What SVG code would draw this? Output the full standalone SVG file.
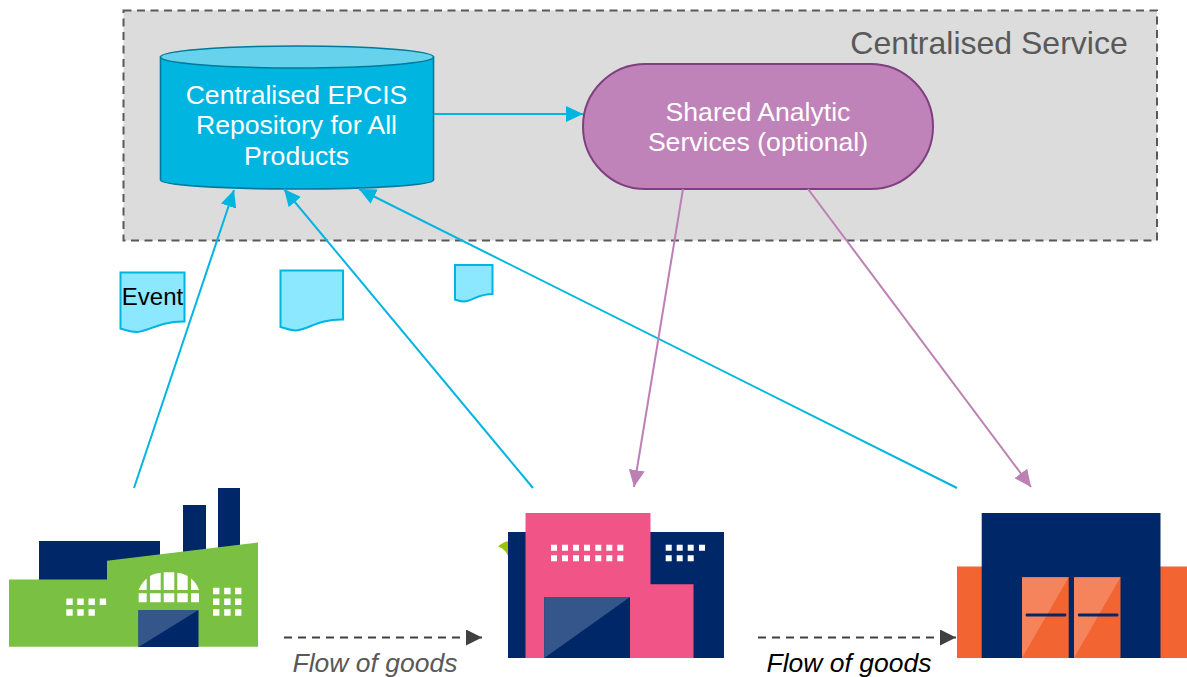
<svg xmlns="http://www.w3.org/2000/svg" width="1187" height="677" viewBox="0 0 1187 677">
<style>
text{font-family:"Liberation Sans",Arial,sans-serif}
.w{fill:#fff;font-size:26.6px;text-anchor:middle}
.flow{font-size:26.5px;font-style:italic;text-anchor:middle}
.blue{fill:none;stroke:#00b5e0;stroke-width:2}
.purple{fill:none;stroke:#bc80b5;stroke-width:2}
.goods{fill:none;stroke:#404040;stroke-width:2;stroke-dasharray:8 6}
.doc{fill:#8be8ff;stroke:#00b5e0;stroke-width:2}
.navy{fill:#002868}
.lt{fill:#34568b}
.win{fill:#fff}
</style>
<defs>
<marker id="ab" markerUnits="userSpaceOnUse" markerWidth="17" markerHeight="16" refX="17" refY="8" orient="auto"><path d="M0 0L17 8L0 16Z" fill="#00b5e0"/></marker>
<marker id="ap" markerUnits="userSpaceOnUse" markerWidth="17" markerHeight="16" refX="17" refY="8" orient="auto"><path d="M0 0L17 8L0 16Z" fill="#bc80b5"/></marker>
<marker id="ag" markerUnits="userSpaceOnUse" markerWidth="16" markerHeight="16" refX="16" refY="8" orient="auto"><path d="M0 0L16 8L0 16Z" fill="#404040"/></marker>
</defs>
<g id="service-box">
<rect x="123.5" y="10.5" width="1033.5" height="230" fill="#dcdcdc" stroke="#595959" stroke-width="2" stroke-dasharray="8 5.5"/>
<text x="989" y="54" font-size="32" fill="#595959" text-anchor="middle">Centralised Service</text>
</g>
<g id="repository">
<path d="M160.5 57V180C160.5 185 221 189 297 189S433.5 185 433.5 180V57Z" fill="#00b5e0" stroke="#007a9c" stroke-width="1.6"/>
<ellipse cx="297" cy="57" rx="136.5" ry="11" fill="#66d2eb" stroke="#007a9c" stroke-width="1.6"/>
<text class="w" x="296.5" y="104">Centralised EPCIS</text>
<text class="w" x="296.5" y="134">Repository for All</text>
<text class="w" x="296.5" y="165">Products</text>
</g>
<g id="analytics">
<rect x="583" y="64" width="350" height="125" rx="62.5" fill="#bf83b9" stroke="#7f3f80" stroke-width="2"/>
<text class="w" x="758" y="121">Shared Analytic</text>
<text class="w" x="758" y="151">Services (optional)</text>
</g>
<g id="connectors">
<path class="blue" d="M434 114H583" marker-end="url(#ab)"/>
<path class="blue" d="M134 488L234 190" marker-end="url(#ab)"/>
<path class="blue" d="M533 488L284 189" marker-end="url(#ab)"/>
<path class="blue" d="M957 488L359 189" marker-end="url(#ab)"/>
<path class="purple" d="M683 189L634 487" marker-end="url(#ap)"/>
<path class="purple" d="M808 189L1031 487" marker-end="url(#ap)"/>
<path class="goods" d="M284 637.5H482" marker-end="url(#ag)"/>
<path class="goods" d="M758 637.5H956" marker-end="url(#ag)"/>
</g>
<g id="doc-event">
<path class="doc" d="M120.5 272.5H184.5V321.5C160 321 150 331 137 332C130 332 125 330 120.5 328.5Z"/>
<text x="152.5" y="305" font-size="24" fill="#000" text-anchor="middle">Event</text>
</g>
<g id="doc-2">
<path class="doc" d="M280.5 270.5H343V319.5C319 319 309 329 296 330.5C289 330.5 285 328 280.5 327Z"/>
</g>
<g id="doc-3">
<path class="doc" d="M455 265H492.5V294C478 294 472 301 464 301.5C460 301.5 458 300.5 455 299.5Z"/>
</g>
<g id="factory">
<rect class="navy" x="39" y="541" width="121" height="40"/>
<rect class="navy" x="183" y="505" width="23" height="50"/>
<rect class="navy" x="218" y="488" width="22" height="62"/>
<path d="M9 579.5H107V560.7L258 542.5V646.7H9Z" fill="#7ac143"/>
<rect class="navy" x="138.5" y="610" width="60" height="37"/>
<path class="lt" d="M138.5 610H198.5L138.5 647Z"/>
<path class="win" d="M138.7 590C141 584 144 581 146.7 578.5V590ZM150 576C153 574.5 157 573 160.7 572.8V590H150ZM163.7 572.3H174.3V590H163.7ZM177.3 572.8C181 573 184 574.5 187.7 576V590H177.3ZM191 578.5C194 581 197 584 199 590H191Z"/>
<path class="win" d="M138.7 593.3h8v9h-8zM150 593.3h10.7v9H150zM163.7 593.3h10.6v9h-10.6zM177.3 593.3h10.4v9h-10.4zM191 593.3h8v9h-8z"/>
<path class="win" d="M66.3 598.5h6.4v6.4h-6.4zM77.3 598.5h6.4v6.4h-6.4zM88.5 598.5h6.4v6.4h-6.4zM99.7 598.5h6.4v6.4h-6.4zM66.3 609.3h6.4v6.4h-6.4zM77.3 609.3h6.4v6.4h-6.4zM88.5 609.3h6.4v6.4h-6.4z"/>
<path class="win" d="M213 587.8h6.4v6.4H213zM224.2 587.8h6.4v6.4h-6.4zM235 587.8h6.4v6.4H235zM213 598.6h6.4v6.4H213zM224.2 598.6h6.4v6.4h-6.4zM235 598.6h6.4v6.4H235zM213 609.3h6.4v6.4H213zM224.2 609.3h6.4v6.4h-6.4zM235 609.3h6.4v6.4H235z"/>
</g>
<g id="distributor">
<path d="M498 546.5C502 543 505 541.5 509 541V558C507 552 503 548 498 546.5Z" fill="#9bc400"/>
<rect class="navy" x="508" y="532" width="216" height="126"/>
<path d="M525.5 513H650.5V584.3H693.5V658H525.5Z" fill="#f15588"/>
<rect class="navy" x="544.3" y="597" width="85.7" height="61"/>
<path class="lt" d="M544.3 597H630L544.3 658Z"/>
<path class="win" d="M551 544.7h6v6h-6zM562 544.7h6v6h-6zM573 544.7h6v6h-6zM584 544.7h6v6h-6zM595.3 544.7h6v6h-6zM606.3 544.7h6v6h-6zM617.3 544.7h6v6h-6zM551 555.3h6v6h-6zM562 555.3h6v6h-6zM573 555.3h6v6h-6zM584 555.3h6v6h-6zM595.3 555.3h6v6h-6zM606.3 555.3h6v6h-6zM617.3 555.3h6v6h-6z"/>
<path class="win" d="M665.7 544.7h6v6h-6zM676.7 544.7h6v6h-6zM687.7 544.7h6v6h-6zM699 544.7h6v6h-6zM665.7 555.3h6v6h-6zM676.7 555.3h6v6h-6zM687.7 555.3h6v6h-6z"/>
</g>
<g id="warehouse">
<rect x="957" y="566.5" width="230" height="91.5" fill="#f26532"/>
<rect class="navy" x="981.7" y="513" width="178.8" height="145"/>
<rect x="1022" y="577.3" width="46.7" height="80.7" fill="#f26532"/>
<rect x="1074" y="577.3" width="46.5" height="80.7" fill="#f26532"/>
<path d="M1022 577.3H1068.7L1022 658ZM1074 577.3H1120.5L1074 658Z" fill="#f5835c"/>
<rect class="navy" x="1025.7" y="613.5" width="40.6" height="3" rx="1"/>
<rect class="navy" x="1078" y="613.5" width="40.4" height="3" rx="1"/>
</g>
<g id="flow-labels">
<text class="flow" x="375" y="672" fill="#595959">Flow of goods</text>
<text class="flow" x="849" y="672" fill="#000">Flow of goods</text>
</g>
</svg>
